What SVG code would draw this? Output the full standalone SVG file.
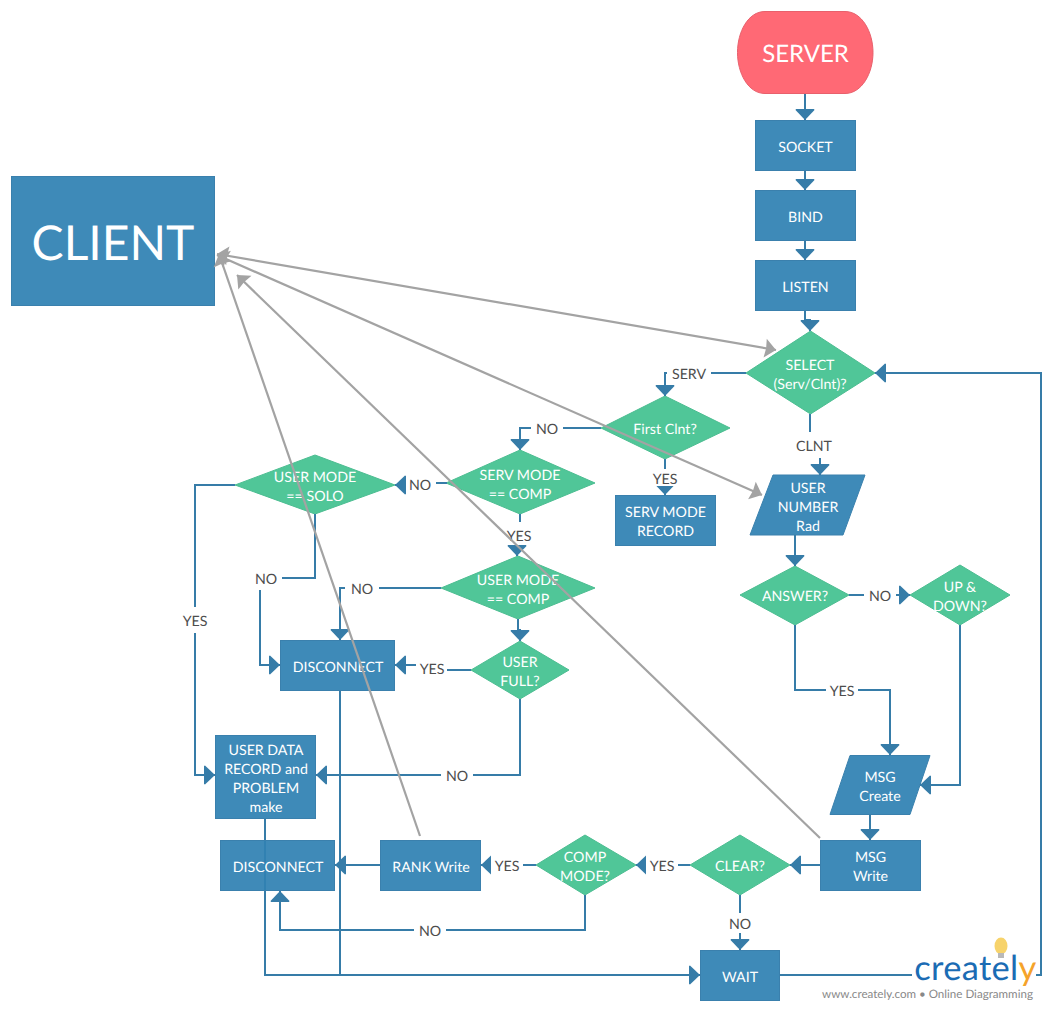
<svg xmlns="http://www.w3.org/2000/svg" width="1049" height="1010" viewBox="0 0 1049 1010">
<style>
text{font-family:Lato,"Open Sans","Liberation Sans",sans-serif;text-anchor:middle;text-rendering:geometricPrecision}
.n{fill:#3e8ab8;stroke:#3a80ad;stroke-width:1}
.d{fill:#50c698;stroke:#4cbd91;stroke-width:1}
.t{fill:#fff;font-size:14.2px;transform:translateY(.5px)}
.l{fill:#4d4d4d;font-size:14.2px;transform:translateY(.5px)}
.c{fill:none;stroke:#367ca8;stroke-width:2;marker-end:url(#a)}
.o{fill:none;stroke:#367ca8;stroke-width:2}
.g{fill:none;stroke:#a3a3a3;stroke-width:2.2;marker-end:url(#h)}
.gg{fill:none;stroke:#a3a3a3;stroke-width:2.2;marker-start:url(#hs);marker-end:url(#h)}
.b{fill:#fff}
</style>
<defs>
<marker id="a" markerUnits="userSpaceOnUse" markerWidth="13" markerHeight="22" refX="12" refY="11" orient="auto"><path d="M1 2L1 20L2 20.500L12 11L2 1.500Z" fill="#367ca8"/></marker>
<marker id="h" markerUnits="userSpaceOnUse" markerWidth="14" markerHeight="22" refX="13" refY="11" orient="auto"><path d="M13 11L2 1.500L3 11L2 20.500Z" fill="#a3a3a3"/></marker>
<marker id="hs" markerUnits="userSpaceOnUse" markerWidth="14" markerHeight="22" refX="1" refY="11" orient="auto"><path d="M1 11L12 1.500L11 11L12 20.500Z" fill="#a3a3a3"/></marker>
</defs>
<g id="node-server"><path d="M765 11.500H845C862 11.500 873 32 873 52.500C873 73 862 93.500 845 93.500H765C748 93.500 737.500 73 737.500 52.500C737.500 32 748 11.500 765 11.500Z" fill="#ff6975" stroke="#e8606c"/><text x="805.500" y="62" fill="#fff" font-size="24">SERVER</text></g>
<g id="node-socket"><rect class="n" x="755.500" y="120.500" width="100" height="50"/><text class="t" x="805.500" y="151">SOCKET</text></g>
<g id="node-bind"><rect class="n" x="755.500" y="190.500" width="100" height="50"/><text class="t" x="805.500" y="221">BIND</text></g>
<g id="node-listen"><rect class="n" x="755.500" y="260.500" width="100" height="50"/><text class="t" x="805.500" y="291">LISTEN</text></g>
<g id="node-client"><rect class="n" x="11.500" y="176.500" width="203" height="129"/><text x="113" y="260" fill="#fff" font-size="48">CLIENT</text></g>
<g id="node-select"><polygon class="d" points="810.500,331 875,373 810.500,414 746,373"/><text class="t" x="810" y="369">SELECT</text><text class="t" x="810" y="388">(Serv/Clnt)?</text></g>
<g id="node-first"><polygon class="d" points="665,396 730,428 665,459 601,428"/><text class="t" x="665" y="433">First Clnt?</text></g>
<g id="node-servrecord"><rect class="n" x="615.500" y="495.500" width="100" height="50"/><text class="t" x="665.500" y="516">SERV MODE</text><text class="t" x="665.500" y="535">RECORD</text></g>
<g id="node-usernumber"><polygon class="n" points="773,475 865,475 843,535 750,535"/><text class="t" x="808" y="492">USER</text><text class="t" x="808" y="511">NUMBER</text><text class="t" x="808" y="530">Rad</text></g>
<g id="node-answer"><polygon class="d" points="795,566 849,595 795,625 740,595"/><text class="t" x="795" y="600">ANSWER?</text></g>
<g id="node-updown"><polygon class="d" points="960,565 1010,595 960,625 910,595"/><text class="t" x="960" y="591">UP &amp;</text><text class="t" x="960" y="610">DOWN?</text></g>
<g id="node-servcomp"><polygon class="d" points="520,450 595,483 520,514 446,483"/><text class="t" x="520" y="479">SERV MODE</text><text class="t" x="520" y="498">== COMP</text></g>
<g id="node-solo"><polygon class="d" points="315,455 395,485 315,514 235,485"/><text class="t" x="315" y="481">USER MODE</text><text class="t" x="315" y="500">== SOLO</text></g>
<g id="node-usercomp"><polygon class="d" points="518,556 595,588 518,619 441,588"/><text class="t" x="518" y="584">USER MODE</text><text class="t" x="518" y="603">== COMP</text></g>
<g id="node-full"><polygon class="d" points="520,641 569,670 520,699 471,670"/><text class="t" x="520" y="666">USER</text><text class="t" x="520" y="685">FULL?</text></g>
<g id="node-disc1"><rect class="n" x="280.500" y="640.500" width="114" height="50"/><text class="t" x="338" y="671">DISCONNECT</text></g>
<g id="node-userdata"><rect class="n" x="215.500" y="735.500" width="100" height="83"/><text class="t" x="266" y="754">USER DATA</text><text class="t" x="266" y="773">RECORD and</text><text class="t" x="266" y="792">PROBLEM</text><text class="t" x="266" y="811">make</text></g>
<g id="node-rank"><rect class="n" x="380.500" y="840.500" width="100" height="50"/><text class="t" x="431" y="871">RANK Write</text></g>
<g id="node-compmode"><polygon class="d" points="585,835 636,865 585,895 536,865"/><text class="t" x="585" y="861">COMP</text><text class="t" x="585" y="880">MODE?</text></g>
<g id="node-clear"><polygon class="d" points="740,835 790,865 740,895 690,865"/><text class="t" x="740" y="870">CLEAR?</text></g>
<g id="node-msgwrite"><rect class="n" x="820.500" y="840.500" width="100" height="50"/><text class="t" x="870.500" y="861">MSG</text><text class="t" x="870.500" y="880">Write</text></g>
<g id="node-msgcreate"><polygon class="n" points="850,755.500 930,755.500 910,814.500 830,814.500"/><text class="t" x="880" y="781">MSG</text><text class="t" x="880" y="800">Create</text></g>
<g id="node-wait"><rect class="n" x="700.500" y="950.500" width="79" height="50"/><text class="t" x="740" y="981">WAIT</text></g>
<g id="connectors">
<path class="c" d="M805 94V120"/>
<path class="c" d="M805 171V190"/>
<path class="c" d="M805 241V260"/>
<path class="c" d="M805 311V320H810V331"/>
<path class="c" d="M746 373H665V396"/>
<path class="c" d="M601 428H520V450"/>
<path class="c" d="M665 459V495"/>
<path class="c" d="M810 414V445H820V475"/>
<path class="c" d="M795 535V566"/>
<path class="c" d="M849 595H910"/>
<path class="c" d="M795 625V690H890V755"/>
<path class="c" d="M960 625V785H920"/>
<path class="c" d="M870 815V840"/>
<path class="c" d="M820 865H790"/>
<path class="c" d="M690 865H636"/>
<path class="c" d="M740 895V950"/>
<path class="c" d="M536 865H481"/>
<path class="c" d="M380 865H335"/>
<path class="c" d="M585 895V930H280V891"/>
<path class="c" d="M447 483H420V485H395"/>
<path class="c" d="M235 485H195V775H215"/>
<path class="c" d="M315 514V578H260V665H280"/>
<path class="c" d="M520 514V535H517V556"/>
<path class="c" d="M441 588H340V640"/>
<path class="c" d="M518 619V630H520V641"/>
<path class="c" d="M471 670H432V665H395"/>
<path class="c" d="M520 699V775H316"/>
<path class="c" d="M265 819V975H700"/>
<path class="o" d="M340 691V975"/>
<path class="c" d="M780 975H1041V373H875"/>
</g>
<g id="node-disc2"><rect x="220.500" y="840.500" width="114" height="50" fill="#3081b3" fill-opacity=".93" stroke="#3a80ad"/><text class="t" x="278" y="871">DISCONNECT</text></g>
<g id="labels">
<rect class="b" x="667" y="363" width="44" height="20"/><text class="l" x="689" y="378">SERV</text>
<rect class="b" x="531" y="418" width="32" height="20"/><text class="l" x="547" y="433">NO</text>
<rect class="b" x="651" y="469" width="28" height="17"/><text class="l" x="665" y="483">YES</text>
<rect class="b" x="795" y="432" width="40" height="26"/><text class="l" x="814" y="450">CLNT</text>
<rect class="b" x="864" y="585" width="32" height="20"/><text class="l" x="880" y="600">NO</text>
<rect class="b" x="826" y="680" width="32" height="20"/><text class="l" x="842" y="695">YES</text>
<rect class="b" x="646" y="855" width="32" height="20"/><text class="l" x="662" y="870">YES</text>
<rect class="b" x="726" y="913" width="28" height="20"/><text class="l" x="740" y="928">NO</text>
<rect class="b" x="491" y="855" width="32" height="20"/><text class="l" x="507" y="870">YES</text>
<rect class="b" x="414" y="920" width="32" height="20"/><text class="l" x="430" y="935">NO</text>
<rect class="b" x="406" y="474" width="30" height="20"/><text class="l" x="420" y="489">NO</text>
<rect class="b" x="181" y="607" width="28" height="26"/><text class="l" x="195" y="625">YES</text>
<rect class="b" x="250" y="567" width="32" height="23"/><text class="l" x="266" y="583">NO</text>
<rect class="b" x="505" y="522" width="28" height="23"/><text class="l" x="519" y="540">YES</text>
<rect class="b" x="345" y="578" width="34" height="20"/><text class="l" x="362" y="593">NO</text>
<rect class="b" x="416" y="655" width="31" height="25"/><text class="l" x="432" y="673">YES</text>
<rect class="b" x="441" y="765" width="32" height="20"/><text class="l" x="457" y="780">NO</text>
</g>
<g id="relations">
<path class="gg" d="M217 254L776 350"/>
<path class="gg" d="M217 255L762 495"/>
<path class="g" d="M820 838L237 275"/>
<path class="g" d="M420 836L219 254"/>
</g>
<g id="logo">
<rect class="b" x="912" y="960" width="124" height="27"/>
<ellipse cx="1001" cy="946" rx="6.500" ry="8.500" fill="#f7d36b"/><rect x="998" y="953" width="6" height="5" fill="#b9b9b9"/>
<text x="975.500" y="980" font-size="34.500" letter-spacing=".3"><tspan fill="#1b6cb4">createl</tspan><tspan fill="#f5a32a">y</tspan></text>
<text x="927.500" y="998" font-size="11.600" fill="#888">www.creately.com • Online Diagramming</text>
</g>
</svg>
